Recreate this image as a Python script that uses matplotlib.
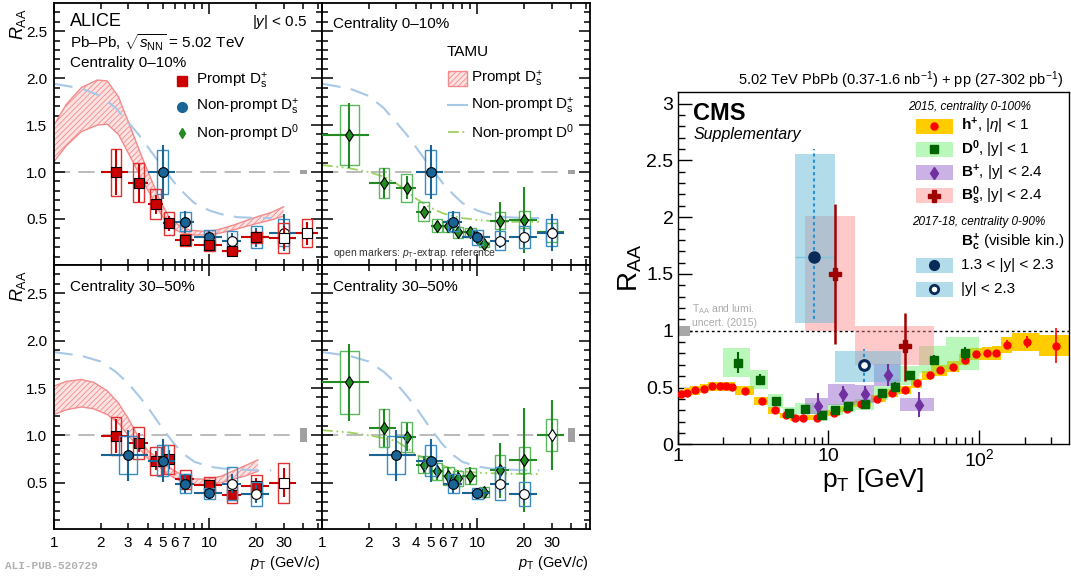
import numpy as np
import matplotlib
matplotlib.use("Agg")
import matplotlib.pyplot as plt
from matplotlib.patches import Rectangle
from matplotlib.ticker import FixedLocator, NullFormatter, FixedFormatter

plt.rcParams['font.family'] = ['Liberation Sans', 'DejaVu Sans']
plt.rcParams['mathtext.fontset'] = 'custom'
plt.rcParams['mathtext.rm'] = 'Liberation Sans'
plt.rcParams['mathtext.it'] = 'Liberation Sans:italic'
plt.rcParams['mathtext.bf'] = 'Liberation Sans:bold'
plt.rcParams['mathtext.sf'] = 'Liberation Sans'
plt.rcParams['hatch.linewidth'] = 0.6

W, H = 1071, 579

# ----------------------------- ALICE data -----------------------------
# Prompt Ds+ 0-10%
pds010_pt = [2.5, 3.5, 4.5, 5.5, 7, 10, 14, 20, 30, 42.5]
pds010_lo = [2, 3, 4, 5, 6, 8, 12, 16, 24, 36]
pds010_hi = [3, 4, 5, 6, 8, 12, 16, 24, 36, 50]
pds010_val = [1.00, 0.886, 0.656, 0.454, 0.277, 0.22, 0.163, 0.305, 0.30, 0.348]
pds010_stat = [0.24, 0.20, 0.10, 0.08, 0.05, 0.05, 0.03, 0.07, 0.12, 0.12]
pds010_syst = [0.25, 0.21, 0.16, 0.12, 0.065, 0.06, 0.04, 0.06, 0.16, 0.15]
pds010_open = [0, 0, 0, 0, 0, 0, 0, 0, 1, 1]
# Non-prompt Ds+ 0-10%
npds010_pt = [5, 7, 10, 14, 20, 30]
npds010_lo = [4, 6, 8, 12, 16, 24]
npds010_hi = [6, 8, 12, 16, 24, 36]
npds010_val = [1.0, 0.47, 0.305, 0.27, 0.305, 0.355]
npds010_stat = [0.29, 0.12, 0.07, 0.08, 0.10, 0.20]
npds010_syst = [0.23, 0.10, 0.08, 0.10, 0.115, 0.14]
npds010_open = [0, 0, 0, 1, 1, 1]
# Non-prompt D0 0-10%
npd0010_pt = [1.5, 2.5, 3.5, 4.5, 5.5, 6.5, 7.5, 9, 11, 14, 20, 30]
npd0010_lo = [1, 2, 3, 4, 5, 6, 7, 8, 10, 12, 16, 24]
npd0010_hi = [2, 3, 4, 5, 6, 7, 8, 10, 12, 16, 24, 36]
npd0010_val = [1.39, 0.886, 0.833, 0.578, 0.43, 0.42, 0.358, 0.358, 0.23, 0.48, 0.49, 0.36]
npd0010_stat = [0.35, 0.16, 0.12, 0.06, 0.05, 0.07, 0.06, 0.06, 0.03, 0.20, 0.35, 0.05]
npd0010_syst = [0.32, 0.16, 0.15, 0.10, 0.07, 0.06, 0.06, 0.05, 0.03, 0.09, 0.09, 0.10]
npd0010_open = [0] * 11 + [1]

# Prompt Ds+ 30-50%
pds3050_pt = [2.5, 3.5, 4.5, 5.5, 7, 10, 14, 20, 30]
pds3050_lo = [2, 3, 4, 5, 6, 8, 12, 16, 24]
pds3050_hi = [3, 4, 5, 6, 8, 12, 16, 24, 36]
pds3050_val = [0.99, 0.92, 0.73, 0.746, 0.535, 0.48, 0.373, 0.465, 0.50]
pds3050_stat = [0.18, 0.10, 0.10, 0.10, 0.06, 0.05, 0.05, 0.08, 0.15]
pds3050_syst = [0.20, 0.17, 0.15, 0.15, 0.10, 0.08, 0.09, 0.12, 0.21]
pds3050_open = [0] * 8 + [1]
# Non-prompt Ds+ 30-50%
npds3050_pt = [3, 5, 7, 10, 14, 20]
npds3050_lo = [2, 4, 6, 8, 12, 16]
npds3050_hi = [4, 6, 8, 12, 16, 24]
npds3050_val = [0.79, 0.733, 0.49, 0.387, 0.49, 0.38]
npds3050_stat = [0.27, 0.23, 0.10, 0.06, 0.10, 0.10]
npds3050_syst = [0.20, 0.16, 0.10, 0.06, 0.17, 0.13]
npds3050_open = [0, 0, 0, 0, 1, 1]
# Non-prompt D0 30-50%
npd03050_pt = [1.5, 2.5, 3.5, 4.5, 5.5, 6.5, 7.5, 9, 11, 14, 20, 30]
npd03050_lo = [1, 2, 3, 4, 5, 6, 7, 8, 10, 12, 16, 24]
npd03050_hi = [2, 3, 4, 5, 6, 7, 8, 10, 12, 16, 24, 36]
npd03050_val = [1.56, 1.08, 0.98, 0.69, 0.62, 0.57, 0.545, 0.57, 0.40, 0.63, 0.74, 1.0]
npd03050_stat = [0.41, 0.20, 0.15, 0.09, 0.09, 0.10, 0.09, 0.09, 0.05, 0.29, 0.55, 0.37]
npd03050_syst = [0.33, 0.20, 0.16, 0.09, 0.09, 0.10, 0.08, 0.08, 0.05, 0.16, 0.14, 0.17]
npd03050_open = [0] * 11 + [1]

# TAMU models
tamu_pds010_pt = [1, 1.2, 1.5, 1.9, 2.2, 2.6, 3.1, 3.6, 4.2, 4.8, 5.5, 6.5, 7.5, 9, 11, 14, 20, 25, 30]
tamu_pds010_hi = [1.50, 1.72, 1.90, 1.98, 1.97, 1.80, 1.48, 1.20, 0.93, 0.70, 0.52, 0.42, 0.38, 0.37, 0.38, 0.43, 0.52, 0.57, 0.63]
tamu_pds010_lo = [1.11, 1.28, 1.43, 1.50, 1.51, 1.40, 1.16, 0.95, 0.75, 0.57, 0.42, 0.36, 0.33, 0.33, 0.34, 0.38, 0.45, 0.49, 0.53]
tamu_pds3050_pt = [1, 1.2, 1.5, 1.8, 2.2, 2.6, 3.0, 3.5, 4.0, 4.8, 5.5, 6.8, 8, 9.6, 12, 14, 17, 20.5]
tamu_pds3050_hi = [1.52, 1.57, 1.59, 1.56, 1.47, 1.34, 1.18, 0.98, 0.84, 0.74, 0.66, 0.57, 0.54, 0.535, 0.57, 0.62, 0.68, 0.74]
tamu_pds3050_lo = [1.22, 1.27, 1.30, 1.28, 1.22, 1.13, 1.00, 0.87, 0.76, 0.66, 0.58, 0.50, 0.48, 0.48, 0.50, 0.535, 0.57, 0.62]
tamu_np_pt = [1, 1.5, 2, 2.5, 3, 3.5, 4, 5, 6, 7, 8, 10, 12, 15, 20, 25]
tamu_npds010 = [1.94, 1.89, 1.81, 1.68, 1.53, 1.40, 1.27, 1.05, 0.88, 0.76, 0.67, 0.59, 0.55, 0.52, 0.51, 0.51]
tamu_npds3050 = [1.88, 1.84, 1.78, 1.67, 1.55, 1.42, 1.30, 1.07, 0.90, 0.79, 0.72, 0.67, 0.65, 0.64, 0.63, 0.63]
tamu_npd0010 = [1.075, 1.04, 1.0, 0.95, 0.88, 0.80, 0.72, 0.62, 0.56, 0.53, 0.51, 0.49, 0.48, 0.47, 0.47, 0.47]
tamu_npd03050 = [1.055, 1.03, 1.0, 0.97, 0.94, 0.87, 0.80, 0.73, 0.68, 0.64, 0.62, 0.605, 0.60, 0.595, 0.59, 0.59]

ref_line_range = [1, 36]
norm_box_pt = [38.3, 42.7]
norm_unc = {'010': 0.02, '3050': 0.075}

# ----------------------------- CMS data -----------------------------
h_lo = [1.0, 1.1, 1.2, 1.4, 1.6, 1.8, 2.0, 2.2, 2.4, 3.2, 4.0, 4.8, 5.6, 6.4, 7.2, 9.6, 12.0, 14.4, 19.2, 24.0,
        28.8, 35.2, 41.6, 48.0, 60.8, 73.6, 86.4, 103.6, 120.8, 140.0, 165.0, 250.0]
h_hi = h_lo[1:] + [400.0]
h_pt = [1.05, 1.15, 1.3, 1.5, 1.7, 1.9, 2.1, 2.3, 2.8, 3.6, 4.4, 5.2, 6.0, 6.8, 8.4, 10.8, 13.2, 16.5, 21, 26.4,
        32, 38.5, 47.3, 55, 67, 80, 95, 112, 130, 153, 206, 323]
h_raa = [0.44, 0.455, 0.475, 0.49, 0.51, 0.513, 0.513, 0.507, 0.47, 0.38, 0.30, 0.254, 0.233, 0.23, 0.236, 0.277,
         0.309, 0.355, 0.402, 0.449, 0.48, 0.536, 0.606, 0.65, 0.685, 0.746, 0.796, 0.80, 0.805, 0.877, 0.90, 0.87]
h_syst = [0.04] * 9 + [0.035, 0.03, 0.025, 0.025, 0.025, 0.025, 0.025, 0.025, 0.03, 0.03, 0.035, 0.035, 0.04,
                       0.04, 0.045, 0.045, 0.05, 0.055, 0.06, 0.06, 0.07, 0.08, 0.095]
h_stat = [0.005] * 26 + [0.01, 0.015, 0.02, 0.04, 0.05, 0.15]

d0_pt = [2.5, 3.5, 4.5, 5.5, 7, 9, 11, 13.5, 17.5, 22.5, 27.5, 35, 50, 80]
d0_lo = [2, 3, 4, 5, 6, 8, 10, 12.5, 15, 20, 25, 30, 40, 60]
d0_hi = [3, 4, 5, 6, 8, 10, 12.5, 15, 20, 25, 30, 40, 60, 100]
d0_raa = [0.72, 0.57, 0.38, 0.28, 0.315, 0.256, 0.306, 0.335, 0.352, 0.452, 0.507, 0.606, 0.744, 0.80]
d0_syst = [0.13, 0.08, 0.06, 0.05, 0.05, 0.05, 0.05, 0.05, 0.05, 0.06, 0.07, 0.08, 0.12, 0.145]
d0_stat = [0.09, 0.05, 0.03, 0.02, 0.02, 0.02, 0.02, 0.02, 0.03, 0.03, 0.04, 0.04, 0.04, 0.06]

bp_pt = [8.5, 12.4, 17.4, 24.8, 40]
bp_lo = [7, 10, 15, 20, 30]
bp_hi = [10, 15, 20, 30, 50]
bp_raa = [0.34, 0.44, 0.44, 0.61, 0.35]
bp_syst = [0.07, 0.09, 0.08, 0.10, 0.06]
bp_stat = [0.11, 0.07, 0.07, 0.10, 0.11]

bs_pt = [11, 32.4]
bs_lo = [7, 15]
bs_hi = [15, 50]
bs_raa = [1.50, 0.863]
bs_syst_lo = [1.00, 0.70]
bs_syst_hi = [2.01, 1.04]
bs_err_lo = [0.88, 0.56]
bs_err_hi = [2.12, 1.16]

bc_pt = [8.0, 17.2]
bc_lo = [6, 11]
bc_hi = [11, 30.5]
bc_raa = [1.65, 0.694]
bc_syst_lo = [1.07, 0.55]
bc_syst_hi = [2.56, 0.825]
bc_err_lo = [1.10, 0.55]
bc_err_hi = [2.60, 0.84]
bc_open = [0, 1]

cms_norm_pt = [1.0, 1.2]
cms_norm_unc = 0.045

# ----------------------------- figure -----------------------------
fig = plt.figure(figsize=(W / 100, H / 100), dpi=100)


def ax_px(x0, y0, x1, y1):
    return fig.add_axes([x0 / W, 1 - y1 / H, (x1 - x0) / W, (y1 - y0) / H])


def ftext(x, y, s, **kw):
    return fig.text(x / W, 1 - y / H, s, **kw)


C_RED = '#cc0000'
C_BLUE = '#1a6496'
C_GREEN = '#228b22'
C_RED_BOX = '#e03030'
C_BLUE_BOX = '#3a8cc4'
C_GREEN_BOX = '#5cb85c'
C_BAND = '#f28b8b'
C_NPDS = '#a8c8e8'
C_NPD0 = '#a0d060'

ax_tl = ax_px(54, 3, 322, 265)
ax_tm = ax_px(322, 3, 590, 265)
ax_bl = ax_px(54, 265, 322, 529)
ax_bm = ax_px(322, 265, 590, 529)


def style_alice(ax, xlab, ylab):
    ax.set_xscale('log')
    ax.set_xlim(1, 53)
    ax.set_ylim(0.01, 2.8)
    ax.xaxis.set_major_locator(FixedLocator([1, 10]))
    ax.xaxis.set_minor_locator(FixedLocator([2, 3, 4, 5, 6, 7, 8, 9, 20, 30, 40, 50]))
    if xlab:
        ax.xaxis.set_major_formatter(FixedFormatter(['1', '10']))
        ax.xaxis.set_minor_formatter(FixedFormatter(['2', '3', '4', '5', '6', '7', '', '', '20', '30', '', '']))
    else:
        ax.xaxis.set_major_formatter(NullFormatter())
        ax.xaxis.set_minor_formatter(NullFormatter())
    ax.yaxis.set_major_locator(FixedLocator([0.5, 1.0, 1.5, 2.0, 2.5]))
    ax.yaxis.set_minor_locator(FixedLocator(np.arange(0.1, 2.8, 0.1)))
    if ylab:
        ax.yaxis.set_major_formatter(FixedFormatter(['0.5', '1.0', '1.5', '2.0', '2.5']))
    else:
        ax.yaxis.set_major_formatter(NullFormatter())
    ax.tick_params(which='both', direction='in', top=True, right=True, labelsize=11, width=1.1)
    ax.tick_params(which='major', length=8, pad=5)
    ax.tick_params(which='minor', length=4, pad=5)
    for sp in ax.spines.values():
        sp.set_linewidth(1.3)


def ref_lines(ax, unc):
    ax.hlines(1.0, ref_line_range[0], ref_line_range[1], colors='#b5b5b5', linestyles=(0, (9, 4.5)), lw=1.3, zorder=1)
    ax.add_patch(Rectangle((norm_box_pt[0], 1 - unc), norm_box_pt[1] - norm_box_pt[0], 2 * unc,
                           facecolor='#a0a0a0', edgecolor='none', zorder=1))


def draw_set(ax, pt, lo, hi, val, stat, syst, opn, color, boxcolor, marker, ms, bw=0.034, zb=3):
    pt = np.array(pt, float); val = np.array(val, float)
    for i in range(len(pt)):
        w = bw if not (marker == 'd' and pt[i] < 2) else 0.06
        if marker == 'o' and pt[i] == 3:
            w = 0.06
        x0 = pt[i] / 10 ** w
        x1 = pt[i] * 10 ** w
        ax.add_patch(Rectangle((x0, val[i] - syst[i]), x1 - x0, 2 * syst[i], facecolor='none',
                               edgecolor=boxcolor, lw=1.0, zorder=zb))
    ax.errorbar(pt, val, xerr=[pt - np.array(lo), np.array(hi) - pt], yerr=stat, fmt='none',
                ecolor=color, elinewidth=1.5, capsize=0, zorder=zb + 1)
    for i in range(len(pt)):
        fc = 'white' if opn[i] else color
        ax.plot(pt[i], val[i], marker=marker, ms=ms, mfc=fc, mec='black', mew=0.8, ls='none', zorder=zb + 2)


def band(ax, pt, lo, hi):
    ax.fill_between(pt, lo, hi, facecolor='#fde2e2', edgecolor=C_BAND, hatch='//////', lw=0, zorder=2)
    ax.plot(pt, lo, color=C_BAND, lw=1.0, zorder=2)
    ax.plot(pt, hi, color=C_BAND, lw=1.0, zorder=2)


for ax, xl, yl in [(ax_tl, False, True), (ax_tm, False, False), (ax_bl, True, True), (ax_bm, True, False)]:
    style_alice(ax, xl, yl)

# top-left
ref_lines(ax_tl, norm_unc['010'])
band(ax_tl, tamu_pds010_pt, tamu_pds010_lo, tamu_pds010_hi)
ax_tl.plot(tamu_np_pt, tamu_npds010, color=C_NPDS, lw=1.5, ls=(0, (9, 5)), zorder=2)
draw_set(ax_tl, npds010_pt, npds010_lo, npds010_hi, npds010_val, npds010_stat, npds010_syst, npds010_open,
         C_BLUE, C_BLUE_BOX, 'o', 7, zb=3)
draw_set(ax_tl, pds010_pt, pds010_lo, pds010_hi, pds010_val, pds010_stat, pds010_syst, pds010_open,
         C_RED, C_RED_BOX, 's', 7, zb=6)
# top-middle
ref_lines(ax_tm, norm_unc['010'])
ax_tm.plot(tamu_np_pt, tamu_npds010, color=C_NPDS, lw=1.5, ls=(0, (9, 5)), zorder=2)
ax_tm.plot(tamu_np_pt, tamu_npd0010, color=C_NPD0, lw=1.3, ls=(0, (6, 2, 1, 2, 1, 2)), zorder=2)
draw_set(ax_tm, npd0010_pt, npd0010_lo, npd0010_hi, npd0010_val, npd0010_stat, npd0010_syst, npd0010_open,
         C_GREEN, C_GREEN_BOX, 'd', 6, zb=3)
draw_set(ax_tm, npds010_pt, npds010_lo, npds010_hi, npds010_val, npds010_stat, npds010_syst, npds010_open,
         C_BLUE, C_BLUE_BOX, 'o', 7, zb=6)
# bottom-left
ref_lines(ax_bl, norm_unc['3050'])
band(ax_bl, tamu_pds3050_pt, tamu_pds3050_lo, tamu_pds3050_hi)
ax_bl.plot(tamu_np_pt, tamu_npds3050, color=C_NPDS, lw=1.5, ls=(0, (9, 5)), zorder=2)
draw_set(ax_bl, pds3050_pt, pds3050_lo, pds3050_hi, pds3050_val, pds3050_stat, pds3050_syst, pds3050_open,
         C_RED, C_RED_BOX, 's', 7, zb=3)
draw_set(ax_bl, npds3050_pt, npds3050_lo, npds3050_hi, npds3050_val, npds3050_stat, npds3050_syst, npds3050_open,
         C_BLUE, C_BLUE_BOX, 'o', 7, zb=6)
# bottom-middle
ref_lines(ax_bm, norm_unc['3050'])
ax_bm.plot(tamu_np_pt, tamu_npds3050, color=C_NPDS, lw=1.5, ls=(0, (9, 5)), zorder=2)
ax_bm.plot(tamu_np_pt, tamu_npd03050, color=C_NPD0, lw=1.3, ls=(0, (6, 2, 1, 2, 1, 2)), zorder=2)
draw_set(ax_bm, npd03050_pt, npd03050_lo, npd03050_hi, npd03050_val, npd03050_stat, npd03050_syst, npd03050_open,
         C_GREEN, C_GREEN_BOX, 'd', 6, zb=3)
draw_set(ax_bm, npds3050_pt, npds3050_lo, npds3050_hi, npds3050_val, npds3050_stat, npds3050_syst, npds3050_open,
         C_BLUE, C_BLUE_BOX, 'o', 7, zb=6)

# ALICE texts
ftext(70, 22, 'ALICE', fontsize=13, va='center')
ftext(308, 22, '|$y$| < 0.5', fontsize=11, va='center', ha='right')
ftext(70, 43, r'Pb–Pb, $\sqrt{s_{\mathrm{NN}}}$ = 5.02 TeV', fontsize=11, va='center')
ftext(70, 63, 'Centrality 0–10%', fontsize=11, va='center')
ftext(333, 24, 'Centrality 0–10%', fontsize=11, va='center')
ftext(70, 287, 'Centrality 30–50%', fontsize=11, va='center')
ftext(333, 287, 'Centrality 30–50%', fontsize=11, va='center')
ftext(333, 253, r'open markers: $p_{\mathrm{T}}$-extrap. reference', fontsize=7.5, va='center', color='#333333')
ftext(18, 8, r'$R_{\mathrm{AA}}$', fontsize=13, rotation=90, va='top', ha='center')
ftext(18, 270, r'$R_{\mathrm{AA}}$', fontsize=13, rotation=90, va='top', ha='center')
ftext(321, 554, r'$p_{\mathrm{T}}$ (GeV/$c$)', fontsize=10.5, ha='right', va='top')
ftext(589, 554, r'$p_{\mathrm{T}}$ (GeV/$c$)', fontsize=10.5, ha='right', va='top')
ftext(5, 566, 'ALI-PUB-520729', fontsize=8, family='Liberation Mono', weight='bold', color='#b0b0b0', va='center')

ov = fig.add_axes([0, 0, 1, 1], zorder=20)
ov.set_xlim(0, W); ov.set_ylim(H, 0); ov.axis('off')

# ALICE legend
ov.plot(182, 81, marker='s', ms=7, mfc=C_RED, mec=C_RED, ls='none')
ov.plot(182, 107, marker='o', ms=7, mfc=C_BLUE, mec=C_BLUE, ls='none')
ov.plot(182, 133, marker='d', ms=5, mfc=C_GREEN, mec=C_GREEN, ls='none')
ov.plot([182, 182], [129, 137], color=C_GREEN, lw=1)
ftext(196, 81, r'Prompt D$_{\mathrm{s}}^{+}$', fontsize=11, va='center')
ftext(196, 107, r'Non-prompt D$_{\mathrm{s}}^{+}$', fontsize=11, va='center')
ftext(196, 133, r'Non-prompt D$^{0}$', fontsize=11, va='center')
# TAMU legend
ftext(447, 52, 'TAMU', fontsize=11, va='center')
ov.add_patch(Rectangle((448, 71), 19, 15, facecolor='#fde2e2', edgecolor=C_BAND, hatch='//////', lw=1))
ov.plot([448, 467], [105, 105], color=C_NPDS, lw=1.5)
ov.plot([448, 467], [132, 132], color=C_NPD0, lw=1.3, ls=(0, (6, 2, 1, 2, 1, 2)))
ftext(471, 79, r'Prompt D$_{\mathrm{s}}^{+}$', fontsize=11, va='center')
ftext(471, 106, r'Non-prompt D$_{\mathrm{s}}^{+}$', fontsize=11, va='center')
ftext(471, 133, r'Non-prompt D$^{0}$', fontsize=11, va='center')

# ----------------------------- CMS panel -----------------------------
axc = ax_px(677.7, 92.3, 1069, 444.3)
axc.set_xscale('log')
axc.set_xlim(1, 394)
axc.set_ylim(0, 3.1)
axc.xaxis.set_major_locator(FixedLocator([1, 10, 100]))
axc.xaxis.set_major_formatter(FixedFormatter(['1', '10', '10$^{2}$']))
axc.xaxis.set_minor_locator(FixedLocator([2, 3, 4, 5, 6, 7, 8, 9, 20, 30, 40, 50, 60, 70, 80, 90, 200, 300]))
axc.xaxis.set_minor_formatter(NullFormatter())
axc.yaxis.set_major_locator(FixedLocator([0, 0.5, 1, 1.5, 2, 2.5, 3]))
axc.yaxis.set_major_formatter(FixedFormatter(['0', '0.5', '1', '1.5', '2', '2.5', '3']))
axc.yaxis.set_minor_locator(FixedLocator(np.arange(0.1, 3.1, 0.1)))
axc.tick_params(which='both', direction='in', labelsize=14, width=1.0)
axc.tick_params(which='major', length=10, pad=3)
axc.tick_params(which='minor', length=5)
for sp in axc.spines.values():
    sp.set_linewidth(1.0)

# reference line and norm box
axc.axhline(1.0, color='black', ls=(0, (2, 2)), lw=1.0, zorder=1)
axc.add_patch(Rectangle((cms_norm_pt[0], 1 - cms_norm_unc), cms_norm_pt[1] - cms_norm_pt[0], 2 * cms_norm_unc,
                        facecolor='#a8a8a8', edgecolor='none', zorder=2))


def boxes(ax, lo, hi, ylo, yhi, color, alpha, z):
    for a, b, c, d in zip(lo, hi, ylo, yhi):
        ax.add_patch(Rectangle((a, c), b - a, d - c, facecolor=color, edgecolor='none', alpha=alpha, zorder=z))


h_raa_a = np.array(h_raa); h_syst_a = np.array(h_syst)
boxes(axc, h_lo, h_hi, h_raa_a - h_syst_a, h_raa_a + h_syst_a, '#ffcc00', 1.0, 2)
d0_raa_a = np.array(d0_raa); d0_syst_a = np.array(d0_syst)
boxes(axc, d0_lo, d0_hi, d0_raa_a - d0_syst_a, d0_raa_a + d0_syst_a, '#66ee66', 0.45, 3)
bp_raa_a = np.array(bp_raa); bp_syst_a = np.array(bp_syst)
boxes(axc, bp_lo, bp_hi, bp_raa_a - bp_syst_a, bp_raa_a + bp_syst_a, '#9966cc', 0.5, 3)
boxes(axc, bs_lo, bs_hi, bs_syst_lo, bs_syst_hi, '#ff8888', 0.45, 3)
boxes(axc, bc_lo, bc_hi, bc_syst_lo, bc_syst_hi, '#66bbd6', 0.5, 4)

axc.errorbar(h_pt, h_raa, yerr=h_stat, fmt='o', ms=5, mfc='#ff0000', mec='#ff0000', ecolor='#ff0000',
             elinewidth=1.2, capsize=0, zorder=6)
axc.errorbar(d0_pt, d0_raa, yerr=d0_stat, fmt='s', ms=6, mfc='#006400', mec='#006400', ecolor='#006400',
             elinewidth=1.5, capsize=0, zorder=7)
axc.errorbar(bp_pt, bp_raa, yerr=bp_stat, fmt='d', ms=6, mfc='#7030a0', mec='#7030a0', ecolor='#7030a0',
             elinewidth=1.5, capsize=0, zorder=7)
bs_pt_a = np.array(bs_pt); bs_raa_a = np.array(bs_raa)
axc.errorbar(bs_pt, bs_raa, yerr=[bs_raa_a - np.array(bs_err_lo), np.array(bs_err_hi) - bs_raa_a], fmt='P',
             ms=8, mfc='#a00000', mec='#a00000', ecolor='#a00000', elinewidth=1.8, capsize=0, zorder=7)
bc_raa_a = np.array(bc_raa)
axc.vlines(bc_pt, bc_err_lo, bc_err_hi, colors='#2a90d0', linestyles=(0, (1.5, 1.5)), lw=1.5, zorder=7)
axc.hlines(bc_raa[0], bc_lo[0], bc_hi[0], colors='#7cc7dc', lw=1.0, zorder=6)
for i in range(len(bc_pt)):
    fc = 'white' if bc_open[i] else '#0a2a5a'
    axc.plot(bc_pt[i], bc_raa[i], marker='o', ms=8 if not bc_open[i] else 7, mfc=fc, mec='#0a2a5a',
             mew=2.2 if bc_open[i] else 1, ls='none', zorder=8)

# CMS texts
ftext(1063, 80, r'5.02 TeV PbPb (0.37-1.6 nb$^{-1}$) + pp (27-302 pb$^{-1}$)', fontsize=10.5, ha='right',
      va='center')
ftext(693, 113, 'CMS', fontsize=17, weight='bold', va='center')
ftext(694, 135, 'Supplementary', fontsize=11.5, style='italic', va='center')
ftext(873, 480, r'p$_{\mathrm{T}}$ [GeV]', fontsize=19, ha='center', va='center')
ftext(630, 268, r'R$_{\mathrm{AA}}$', fontsize=20, ha='center', va='center', rotation=90)
ftext(692, 309, r'T$_{\mathrm{AA}}$ and lumi.', fontsize=7.5, color='#aaaaaa', va='center')
ftext(692, 323, 'uncert. (2015)', fontsize=7.5, color='#aaaaaa', va='center')

# CMS legend
ftext(1031, 107, '2015, centrality 0-100%', fontsize=8.5, style='italic', ha='right', va='center')
leg_y = [126, 149, 172.5, 195.5]
leg_col = [('#ffcc00', 1.0), ('#66ee66', 0.45), ('#9966cc', 0.5), ('#ff8888', 0.45)]
for yy, (cc, aa) in zip(leg_y, leg_col):
    ov.add_patch(Rectangle((916, yy - 7.5), 37, 15, facecolor=cc, alpha=aa, edgecolor='none'))
ov.plot(934, leg_y[0], marker='o', ms=5, color='#ff0000', ls='none')
ov.plot(934, leg_y[1], marker='s', ms=6, color='#006400', ls='none')
ov.plot(934, leg_y[2], marker='d', ms=6, color='#7030a0', ls='none')
ov.plot(934, leg_y[3], marker='P', ms=8, color='#a00000', ls='none')
ftext(961, leg_y[0], r'$\mathbf{h}^{\mathbf{+}}$, |$\eta$| < 1', fontsize=11, va='center')
ftext(961, leg_y[1], r'$\mathbf{D}^{\mathbf{0}}$, |y| < 1', fontsize=11, va='center')
ftext(961, leg_y[2], r'$\mathbf{B}^{\mathbf{+}}$, |y| < 2.4', fontsize=11, va='center')
ftext(961, leg_y[3], r'$\mathbf{B}^{\mathbf{0}}_{\mathbf{s}}$, |y| < 2.4', fontsize=11, va='center')
ftext(1045, 222, '2017-18, centrality 0-90%', fontsize=8.5, style='italic', ha='right', va='center')
ftext(961, 242, r'$\mathbf{B}^{\mathbf{+}}_{\mathbf{c}}$ (visible kin.)', fontsize=11, va='center')
for yy in [265, 289]:
    ov.add_patch(Rectangle((916, yy - 7.5), 37, 15, facecolor='#66bbd6', alpha=0.5, edgecolor='none'))
ov.plot(934, 265, marker='o', ms=7, mfc='#0a2a5a', mec='#0a2a5a', ls='none')
ov.plot(934, 289, marker='o', ms=6, mfc='white', mec='#0a2a5a', mew=2, ls='none')
ftext(961, 265, '1.3 < |y| < 2.3', fontsize=11, va='center')
ftext(961, 289, '|y| < 2.3', fontsize=11, va='center')

fig.savefig('out.png', dpi=100)
